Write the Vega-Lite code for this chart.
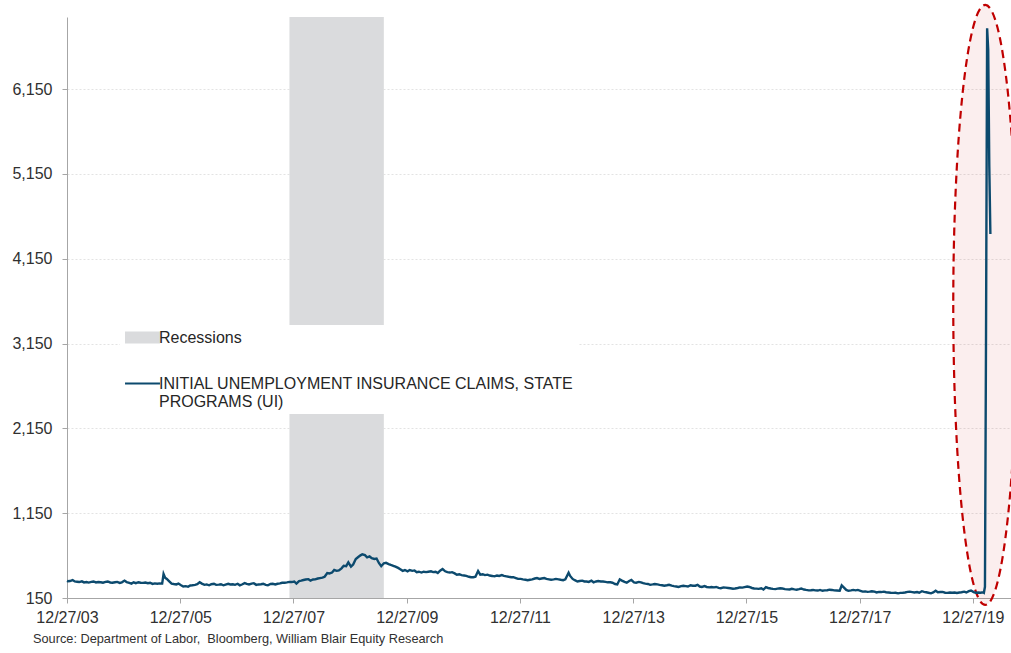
{
  "$schema": "https://vega.github.io/schema/vega-lite/v6.json",
  "width": 944,
  "height": 581,
  "autosize": {"type": "none"},
  "padding": {"left": 67, "top": 17, "right": 0, "bottom": 55},
  "background": "white",
  "config": {
    "view": {"stroke": null},
    "font": "Liberation Sans",
    "axis": {
      "labelFont": "Liberation Sans",
      "labelFontSize": 16,
      "labelColor": "#303030",
      "domainColor": "#a6a6a6",
      "tickColor": "#a6a6a6",
      "tickSize": 5,
      "labelFlush": false,
      "title": null
    }
  },
  "title": {
    "text": "Source: Department of Labor,\u00a0 Bloomberg, William Blair Equity Research",
    "orient": "bottom",
    "anchor": "start",
    "frame": "group",
    "font": "Liberation Sans",
    "fontSize": 12.75,
    "fontWeight": "normal",
    "color": "#303030",
    "dx": -34,
    "offset": 8
  },
  "datasets": {
    "recessions": [
      {"start": "2007-12-01", "end": "2009-08-01"}
    ],
    "highlight": [
      {"date": "2020-03-16", "claims": 3605}
    ],
    "claims": [
      {"date": "2003-12-27", "claims": 352},
      {"date": "2004-01-01", "claims": 348}, {"date": "2004-01-15", "claims": 350},
      {"date": "2004-02-01", "claims": 362}, {"date": "2004-02-15", "claims": 345},
      {"date": "2004-03-01", "claims": 342}, {"date": "2004-03-15", "claims": 338},
      {"date": "2004-04-01", "claims": 346}, {"date": "2004-04-15", "claims": 334},
      {"date": "2004-05-01", "claims": 338}, {"date": "2004-05-15", "claims": 332},
      {"date": "2004-06-01", "claims": 340}, {"date": "2004-06-15", "claims": 345},
      {"date": "2004-07-01", "claims": 334}, {"date": "2004-07-15", "claims": 338},
      {"date": "2004-08-01", "claims": 335}, {"date": "2004-08-15", "claims": 330},
      {"date": "2004-09-01", "claims": 340}, {"date": "2004-09-15", "claims": 345},
      {"date": "2004-10-01", "claims": 333}, {"date": "2004-10-15", "claims": 330},
      {"date": "2004-11-01", "claims": 336}, {"date": "2004-11-15", "claims": 340},
      {"date": "2004-12-01", "claims": 328}, {"date": "2004-12-15", "claims": 335},
      {"date": "2005-01-01", "claims": 355}, {"date": "2005-01-15", "claims": 338},
      {"date": "2005-02-01", "claims": 328}, {"date": "2005-02-15", "claims": 320},
      {"date": "2005-03-01", "claims": 335}, {"date": "2005-03-15", "claims": 325},
      {"date": "2005-04-01", "claims": 336}, {"date": "2005-04-15", "claims": 330},
      {"date": "2005-05-01", "claims": 328}, {"date": "2005-05-15", "claims": 332},
      {"date": "2005-06-01", "claims": 325}, {"date": "2005-06-15", "claims": 330},
      {"date": "2005-07-01", "claims": 316}, {"date": "2005-07-15", "claims": 322},
      {"date": "2005-08-01", "claims": 318}, {"date": "2005-08-15", "claims": 322},
      {"date": "2005-09-01", "claims": 320}, {"date": "2005-09-10", "claims": 433},
      {"date": "2005-09-20", "claims": 390},
      {"date": "2005-10-01", "claims": 375}, {"date": "2005-10-15", "claims": 350},
      {"date": "2005-11-01", "claims": 320}, {"date": "2005-11-15", "claims": 315},
      {"date": "2005-12-01", "claims": 310}, {"date": "2005-12-15", "claims": 320},
      {"date": "2006-01-01", "claims": 300}, {"date": "2006-01-15", "claims": 285},
      {"date": "2006-02-01", "claims": 290}, {"date": "2006-02-15", "claims": 282},
      {"date": "2006-03-01", "claims": 298}, {"date": "2006-03-15", "claims": 300},
      {"date": "2006-04-01", "claims": 305}, {"date": "2006-04-15", "claims": 312},
      {"date": "2006-05-01", "claims": 335}, {"date": "2006-05-15", "claims": 320},
      {"date": "2006-06-01", "claims": 305}, {"date": "2006-06-15", "claims": 310},
      {"date": "2006-07-01", "claims": 300}, {"date": "2006-07-15", "claims": 312},
      {"date": "2006-08-01", "claims": 318}, {"date": "2006-08-15", "claims": 305},
      {"date": "2006-09-01", "claims": 308}, {"date": "2006-09-15", "claims": 312},
      {"date": "2006-10-01", "claims": 300}, {"date": "2006-10-15", "claims": 308},
      {"date": "2006-11-01", "claims": 318}, {"date": "2006-11-15", "claims": 310},
      {"date": "2006-12-01", "claims": 312}, {"date": "2006-12-15", "claims": 305},
      {"date": "2007-01-01", "claims": 318}, {"date": "2007-01-15", "claims": 300},
      {"date": "2007-02-01", "claims": 312}, {"date": "2007-02-15", "claims": 325},
      {"date": "2007-03-01", "claims": 316}, {"date": "2007-03-15", "claims": 310},
      {"date": "2007-04-01", "claims": 320}, {"date": "2007-04-15", "claims": 325},
      {"date": "2007-05-01", "claims": 305}, {"date": "2007-05-15", "claims": 310},
      {"date": "2007-06-01", "claims": 312}, {"date": "2007-06-15", "claims": 318},
      {"date": "2007-07-01", "claims": 305}, {"date": "2007-07-15", "claims": 300},
      {"date": "2007-08-01", "claims": 315}, {"date": "2007-08-15", "claims": 318},
      {"date": "2007-09-01", "claims": 310}, {"date": "2007-09-15", "claims": 318},
      {"date": "2007-10-01", "claims": 322}, {"date": "2007-10-15", "claims": 330},
      {"date": "2007-11-01", "claims": 330}, {"date": "2007-11-15", "claims": 334},
      {"date": "2007-12-01", "claims": 340}, {"date": "2007-12-15", "claims": 338},
      {"date": "2008-01-01", "claims": 345}, {"date": "2008-01-15", "claims": 320},
      {"date": "2008-02-01", "claims": 350}, {"date": "2008-02-15", "claims": 355},
      {"date": "2008-03-01", "claims": 362}, {"date": "2008-03-15", "claims": 368},
      {"date": "2008-04-01", "claims": 372}, {"date": "2008-04-15", "claims": 355},
      {"date": "2008-05-01", "claims": 368}, {"date": "2008-05-15", "claims": 370},
      {"date": "2008-06-01", "claims": 380}, {"date": "2008-06-15", "claims": 385},
      {"date": "2008-07-01", "claims": 390}, {"date": "2008-07-15", "claims": 400},
      {"date": "2008-08-01", "claims": 445}, {"date": "2008-08-15", "claims": 440},
      {"date": "2008-09-01", "claims": 450}, {"date": "2008-09-15", "claims": 480},
      {"date": "2008-10-01", "claims": 470}, {"date": "2008-10-15", "claims": 475},
      {"date": "2008-11-01", "claims": 500}, {"date": "2008-11-15", "claims": 530},
      {"date": "2008-12-01", "claims": 525}, {"date": "2008-12-15", "claims": 570},
      {"date": "2009-01-01", "claims": 520}, {"date": "2009-01-15", "claims": 545},
      {"date": "2009-02-01", "claims": 610}, {"date": "2009-02-15", "claims": 630},
      {"date": "2009-03-01", "claims": 650}, {"date": "2009-03-15", "claims": 665},
      {"date": "2009-04-01", "claims": 655}, {"date": "2009-04-15", "claims": 630},
      {"date": "2009-05-01", "claims": 640}, {"date": "2009-05-15", "claims": 620},
      {"date": "2009-06-01", "claims": 610}, {"date": "2009-06-15", "claims": 615},
      {"date": "2009-07-01", "claims": 560}, {"date": "2009-07-15", "claims": 525},
      {"date": "2009-08-01", "claims": 560}, {"date": "2009-08-15", "claims": 565},
      {"date": "2009-09-01", "claims": 550}, {"date": "2009-09-15", "claims": 540},
      {"date": "2009-10-01", "claims": 530}, {"date": "2009-10-15", "claims": 520},
      {"date": "2009-11-01", "claims": 505}, {"date": "2009-11-15", "claims": 490},
      {"date": "2009-12-01", "claims": 470}, {"date": "2009-12-15", "claims": 480},
      {"date": "2010-01-01", "claims": 465}, {"date": "2010-01-15", "claims": 480},
      {"date": "2010-02-01", "claims": 470}, {"date": "2010-02-15", "claims": 475},
      {"date": "2010-03-01", "claims": 455}, {"date": "2010-03-15", "claims": 460},
      {"date": "2010-04-01", "claims": 450}, {"date": "2010-04-15", "claims": 460},
      {"date": "2010-05-01", "claims": 455}, {"date": "2010-05-15", "claims": 460},
      {"date": "2010-06-01", "claims": 465}, {"date": "2010-06-15", "claims": 455},
      {"date": "2010-07-01", "claims": 460}, {"date": "2010-07-15", "claims": 445},
      {"date": "2010-08-01", "claims": 475}, {"date": "2010-08-15", "claims": 492},
      {"date": "2010-09-01", "claims": 465}, {"date": "2010-09-15", "claims": 455},
      {"date": "2010-10-01", "claims": 450}, {"date": "2010-10-15", "claims": 455},
      {"date": "2010-11-01", "claims": 440}, {"date": "2010-11-15", "claims": 425},
      {"date": "2010-12-01", "claims": 430}, {"date": "2010-12-15", "claims": 420},
      {"date": "2011-01-01", "claims": 415}, {"date": "2011-01-15", "claims": 410},
      {"date": "2011-02-01", "claims": 400}, {"date": "2011-02-15", "claims": 395},
      {"date": "2011-03-01", "claims": 395}, {"date": "2011-03-15", "claims": 400},
      {"date": "2011-04-01", "claims": 468}, {"date": "2011-04-15", "claims": 425},
      {"date": "2011-05-01", "claims": 430}, {"date": "2011-05-15", "claims": 420},
      {"date": "2011-06-01", "claims": 425}, {"date": "2011-06-15", "claims": 415},
      {"date": "2011-07-01", "claims": 410}, {"date": "2011-07-15", "claims": 405},
      {"date": "2011-08-01", "claims": 415}, {"date": "2011-08-15", "claims": 410},
      {"date": "2011-09-01", "claims": 420}, {"date": "2011-09-15", "claims": 410},
      {"date": "2011-10-01", "claims": 405}, {"date": "2011-10-15", "claims": 400},
      {"date": "2011-11-01", "claims": 395}, {"date": "2011-11-15", "claims": 395},
      {"date": "2011-12-01", "claims": 385}, {"date": "2011-12-15", "claims": 375},
      {"date": "2012-01-01", "claims": 375}, {"date": "2012-01-15", "claims": 370},
      {"date": "2012-02-01", "claims": 365}, {"date": "2012-02-15", "claims": 360},
      {"date": "2012-03-01", "claims": 365}, {"date": "2012-03-15", "claims": 370},
      {"date": "2012-04-01", "claims": 380}, {"date": "2012-04-15", "claims": 385},
      {"date": "2012-05-01", "claims": 375}, {"date": "2012-05-15", "claims": 380},
      {"date": "2012-06-01", "claims": 385}, {"date": "2012-06-15", "claims": 375},
      {"date": "2012-07-01", "claims": 370}, {"date": "2012-07-15", "claims": 365},
      {"date": "2012-08-01", "claims": 370}, {"date": "2012-08-15", "claims": 375},
      {"date": "2012-09-01", "claims": 370}, {"date": "2012-09-15", "claims": 365},
      {"date": "2012-10-01", "claims": 360}, {"date": "2012-10-15", "claims": 370},
      {"date": "2012-11-05", "claims": 448}, {"date": "2012-11-15", "claims": 410},
      {"date": "2012-12-01", "claims": 375}, {"date": "2012-12-15", "claims": 360},
      {"date": "2013-01-01", "claims": 345}, {"date": "2013-01-15", "claims": 350},
      {"date": "2013-02-01", "claims": 355}, {"date": "2013-02-15", "claims": 345},
      {"date": "2013-03-01", "claims": 345}, {"date": "2013-03-15", "claims": 340},
      {"date": "2013-04-01", "claims": 355}, {"date": "2013-04-15", "claims": 335},
      {"date": "2013-05-01", "claims": 345}, {"date": "2013-05-15", "claims": 350},
      {"date": "2013-06-01", "claims": 345}, {"date": "2013-06-15", "claims": 345},
      {"date": "2013-07-01", "claims": 340}, {"date": "2013-07-15", "claims": 335},
      {"date": "2013-08-01", "claims": 335}, {"date": "2013-08-15", "claims": 330},
      {"date": "2013-09-01", "claims": 315}, {"date": "2013-09-15", "claims": 310},
      {"date": "2013-10-01", "claims": 370}, {"date": "2013-10-15", "claims": 355},
      {"date": "2013-11-01", "claims": 340}, {"date": "2013-11-15", "claims": 330},
      {"date": "2013-12-01", "claims": 350}, {"date": "2013-12-15", "claims": 362},
      {"date": "2014-01-01", "claims": 335}, {"date": "2014-01-15", "claims": 330},
      {"date": "2014-02-01", "claims": 340}, {"date": "2014-02-15", "claims": 335},
      {"date": "2014-03-01", "claims": 325}, {"date": "2014-03-15", "claims": 320},
      {"date": "2014-04-01", "claims": 315}, {"date": "2014-04-15", "claims": 305},
      {"date": "2014-05-01", "claims": 310}, {"date": "2014-05-15", "claims": 315},
      {"date": "2014-06-01", "claims": 310}, {"date": "2014-06-15", "claims": 305},
      {"date": "2014-07-01", "claims": 300}, {"date": "2014-07-15", "claims": 295},
      {"date": "2014-08-01", "claims": 300}, {"date": "2014-08-15", "claims": 305},
      {"date": "2014-09-01", "claims": 295}, {"date": "2014-09-15", "claims": 290},
      {"date": "2014-10-01", "claims": 285}, {"date": "2014-10-15", "claims": 280},
      {"date": "2014-11-01", "claims": 290}, {"date": "2014-11-15", "claims": 295},
      {"date": "2014-12-01", "claims": 290}, {"date": "2014-12-15", "claims": 285},
      {"date": "2015-01-01", "claims": 300}, {"date": "2015-01-15", "claims": 295},
      {"date": "2015-02-01", "claims": 295}, {"date": "2015-02-15", "claims": 305},
      {"date": "2015-03-01", "claims": 285}, {"date": "2015-03-15", "claims": 280},
      {"date": "2015-04-01", "claims": 290}, {"date": "2015-04-15", "claims": 280},
      {"date": "2015-05-01", "claims": 275}, {"date": "2015-05-15", "claims": 280},
      {"date": "2015-06-01", "claims": 275}, {"date": "2015-06-15", "claims": 280},
      {"date": "2015-07-01", "claims": 270}, {"date": "2015-07-15", "claims": 265},
      {"date": "2015-08-01", "claims": 275}, {"date": "2015-08-15", "claims": 272},
      {"date": "2015-09-01", "claims": 268}, {"date": "2015-09-15", "claims": 265},
      {"date": "2015-10-01", "claims": 260}, {"date": "2015-10-15", "claims": 262},
      {"date": "2015-11-01", "claims": 268}, {"date": "2015-11-15", "claims": 275},
      {"date": "2015-12-01", "claims": 272}, {"date": "2015-12-15", "claims": 278},
      {"date": "2016-01-01", "claims": 285}, {"date": "2016-01-15", "claims": 280},
      {"date": "2016-02-01", "claims": 268}, {"date": "2016-02-15", "claims": 262},
      {"date": "2016-03-01", "claims": 260}, {"date": "2016-03-15", "claims": 258},
      {"date": "2016-04-01", "claims": 265}, {"date": "2016-04-15", "claims": 250},
      {"date": "2016-05-01", "claims": 278}, {"date": "2016-05-15", "claims": 268},
      {"date": "2016-06-01", "claims": 262}, {"date": "2016-06-15", "claims": 258},
      {"date": "2016-07-01", "claims": 255}, {"date": "2016-07-15", "claims": 260},
      {"date": "2016-08-01", "claims": 265}, {"date": "2016-08-15", "claims": 262},
      {"date": "2016-09-01", "claims": 255}, {"date": "2016-09-15", "claims": 252},
      {"date": "2016-10-01", "claims": 250}, {"date": "2016-10-15", "claims": 258},
      {"date": "2016-11-01", "claims": 252}, {"date": "2016-11-15", "claims": 248},
      {"date": "2016-12-01", "claims": 255}, {"date": "2016-12-15", "claims": 262},
      {"date": "2017-01-01", "claims": 250}, {"date": "2017-01-15", "claims": 245},
      {"date": "2017-02-01", "claims": 240}, {"date": "2017-02-15", "claims": 242},
      {"date": "2017-03-01", "claims": 245}, {"date": "2017-03-15", "claims": 240},
      {"date": "2017-04-01", "claims": 238}, {"date": "2017-04-15", "claims": 245},
      {"date": "2017-05-01", "claims": 235}, {"date": "2017-05-15", "claims": 240},
      {"date": "2017-06-01", "claims": 242}, {"date": "2017-06-15", "claims": 248},
      {"date": "2017-07-01", "claims": 245}, {"date": "2017-07-15", "claims": 240},
      {"date": "2017-08-01", "claims": 238}, {"date": "2017-08-20", "claims": 235},
      {"date": "2017-09-02", "claims": 298}, {"date": "2017-09-15", "claims": 275},
      {"date": "2017-10-01", "claims": 245}, {"date": "2017-10-15", "claims": 235},
      {"date": "2017-11-01", "claims": 240}, {"date": "2017-11-15", "claims": 245},
      {"date": "2017-12-01", "claims": 240}, {"date": "2017-12-15", "claims": 245},
      {"date": "2018-01-01", "claims": 235}, {"date": "2018-01-15", "claims": 225},
      {"date": "2018-02-01", "claims": 228}, {"date": "2018-02-15", "claims": 222},
      {"date": "2018-03-01", "claims": 225}, {"date": "2018-03-15", "claims": 230},
      {"date": "2018-04-01", "claims": 225}, {"date": "2018-04-15", "claims": 215},
      {"date": "2018-05-01", "claims": 222}, {"date": "2018-05-15", "claims": 220},
      {"date": "2018-06-01", "claims": 225}, {"date": "2018-06-15", "claims": 218},
      {"date": "2018-07-01", "claims": 215}, {"date": "2018-07-15", "claims": 212},
      {"date": "2018-08-01", "claims": 210}, {"date": "2018-08-15", "claims": 212},
      {"date": "2018-09-01", "claims": 205}, {"date": "2018-09-15", "claims": 210},
      {"date": "2018-10-01", "claims": 212}, {"date": "2018-10-15", "claims": 215},
      {"date": "2018-11-01", "claims": 222}, {"date": "2018-11-15", "claims": 225},
      {"date": "2018-12-01", "claims": 220}, {"date": "2018-12-15", "claims": 215},
      {"date": "2019-01-01", "claims": 220}, {"date": "2019-01-15", "claims": 212},
      {"date": "2019-02-01", "claims": 230}, {"date": "2019-02-15", "claims": 222},
      {"date": "2019-03-01", "claims": 218}, {"date": "2019-03-15", "claims": 212},
      {"date": "2019-04-01", "claims": 205}, {"date": "2019-04-15", "claims": 215},
      {"date": "2019-05-01", "claims": 235}, {"date": "2019-05-15", "claims": 218},
      {"date": "2019-06-01", "claims": 220}, {"date": "2019-06-15", "claims": 222},
      {"date": "2019-07-01", "claims": 212}, {"date": "2019-07-15", "claims": 210},
      {"date": "2019-08-01", "claims": 215}, {"date": "2019-08-15", "claims": 212},
      {"date": "2019-09-01", "claims": 215}, {"date": "2019-09-15", "claims": 210},
      {"date": "2019-10-01", "claims": 215}, {"date": "2019-10-15", "claims": 218},
      {"date": "2019-11-01", "claims": 225}, {"date": "2019-11-15", "claims": 215},
      {"date": "2019-12-01", "claims": 230}, {"date": "2019-12-15", "claims": 238},
      {"date": "2020-01-01", "claims": 220}, {"date": "2020-01-15", "claims": 212},
      {"date": "2020-02-01", "claims": 215}, {"date": "2020-02-15", "claims": 212},
      {"date": "2020-03-01", "claims": 217}, {"date": "2020-03-07", "claims": 211},
      {"date": "2020-03-14", "claims": 282}, {"date": "2020-03-21", "claims": 3307},
      {"date": "2020-03-28", "claims": 6867}, {"date": "2020-04-04", "claims": 6615},
      {"date": "2020-04-11", "claims": 5237}, {"date": "2020-04-18", "claims": 4442}
    ]
  },
  "layer": [
    {
      "data": {"name": "recessions"},
      "mark": {"type": "rect"},
      "encoding": {
        "x": {
          "field": "start",
          "type": "temporal",
          "scale": {
            "type": "utc",
            "domain": [
              {"year": 2003, "month": 12, "date": 27, "utc": true},
              {"year": 2020, "month": 8, "date": 29, "utc": true}
            ]
          },
          "axis": {
            "values": [
              {"year": 2003, "month": 12, "date": 27, "utc": true},
              {"year": 2005, "month": 12, "date": 27, "utc": true},
              {"year": 2007, "month": 12, "date": 27, "utc": true},
              {"year": 2009, "month": 12, "date": 27, "utc": true},
              {"year": 2011, "month": 12, "date": 27, "utc": true},
              {"year": 2013, "month": 12, "date": 27, "utc": true},
              {"year": 2015, "month": 12, "date": 27, "utc": true},
              {"year": 2017, "month": 12, "date": 27, "utc": true},
              {"year": 2019, "month": 12, "date": 27, "utc": true}
            ],
            "labelExpr": "utcFormat(datum.value, '%m/%d/%y')",
            "labelAngle": 0,
            "labelPadding": 6,
            "labelFlush": false,
            "labelOverlap": false,
            "grid": false
          }
        },
        "x2": {"field": "end"},
        "color": {
          "datum": "Recessions",
          "type": "nominal",
          "scale": {
            "domain": ["Recessions", "UI"],
            "range": ["#dadbdd", "#0c4a6e"]
          },
          "legend": {
            "title": null,
            "orient": "none",
            "legendX": 53,
            "legendY": 308,
            "fillColor": "white",
            "padding": 4,
            "rowPadding": 28,
            "symbolSize": 225,
            "symbolOffset": 10,
            "labelOffset": 8,
            "labelFont": "Liberation Sans",
            "labelFontSize": 16,
            "labelColor": "#262626",
            "labelLimit": 800,
            "labelExpr": "datum.value == 'UI' ? ['INITIAL UNEMPLOYMENT INSURANCE CLAIMS, STATE', 'PROGRAMS (UI)'] : datum.label",
            "encode": {
              "symbols": {
                "update": {
                  "shape": {"signal": "datum.value == 'Recessions' ? 'M-2.2,-0.67H2.2V0.67H-2.2Z' : 'M-2.33,0H2.33'"},
                  "fill": {"signal": "datum.value == 'Recessions' ? '#dadbdd' : 'transparent'"},
                  "stroke": {"signal": "datum.value == 'Recessions' ? 'transparent' : '#0c4a6e'"},
                  "strokeWidth": {"value": 2},
                  "opacity": {"value": 1}
                }
              }
            }
          }
        }
      }
    },
    {
      "data": {"name": "highlight"},
      "mark": {
        "type": "point",
        "shape": "M-0.1067,0A0.1067,1,0,1,0,0.1067,0A0.1067,1,0,1,0,-0.1067,0Z",
        "size": 360000,
        "filled": true,
        "fill": "#c00000",
        "fillOpacity": 0.065,
        "stroke": "#c00000",
        "strokeOpacity": 1,
        "strokeWidth": 2.2,
        "strokeDash": [8, 5],
        "opacity": 1
      },
      "encoding": {
        "x": {"field": "date", "type": "temporal"},
        "y": {"field": "claims", "type": "quantitative"}
      }
    },
    {
      "data": {"name": "claims"},
      "mark": {"type": "line", "strokeWidth": 2.4, "interpolate": "linear"},
      "encoding": {
        "x": {
          "field": "date",
          "type": "temporal",
          "axis": {
            "labelExpr": "utcFormat(datum.value, '%m/%d/%y')",
            "labelFlush": false
          }
        },
        "y": {
          "field": "claims",
          "type": "quantitative",
          "scale": {"domain": [150, 7000], "nice": false, "zero": false},
          "axis": {
            "values": [150, 1150, 2150, 3150, 4150, 5150, 6150],
            "format": ",d",
            "labelPadding": 10,
            "grid": true,
            "gridColor": "#e3e3e3",
            "gridDash": [2, 2],
            "gridWidth": 1
          }
        },
        "color": {"datum": "UI", "type": "nominal"}
      }
    }
  ]
}
